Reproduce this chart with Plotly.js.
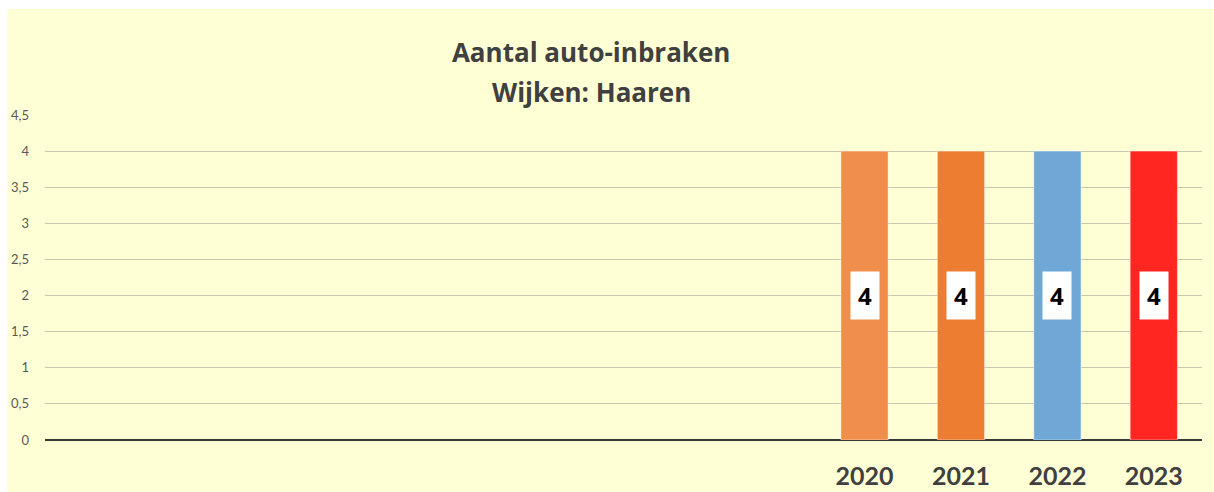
<!DOCTYPE html>
<html>
<head>
<meta charset="utf-8">
<script src="https://cdn.plot.ly/plotly-3.0.1.min.js"></script>
<style>
  html, body { margin: 0; padding: 0; background: #ffffff; width: 1214px; height: 492px; overflow: hidden; }
  #chart { position: absolute; left: 7px; top: 9px; width: 1207px; height: 483px; }
</style>
</head>
<body>
<div id="chart"></div>
<script>
// ---- data ----
const titleLine1 = 'Aantal auto-inbraken';
const titleLine2 = 'Wijken: Haaren';
const years = ['2020', '2021', '2022', '2023'];
const values = [4, 4, 4, 4];
const barColors = ['#F08F4B', '#ED7D31', '#6FA7D6', '#FF2521'];
const yTickVals = [0, 0.5, 1, 1.5, 2, 2.5, 3, 3.5, 4, 4.5];
const yTickText = ['0', '0,5', '1', '1,5', '2', '2,5', '3', '3,5', '4', '4,5'];

const trace = {
  type: 'bar',
  x: years,
  y: values,
  marker: { color: barColors, line: { color: 'rgba(255,255,255,0.45)', width: 1 } },
  hoverinfo: 'x+y'
};

const labelAnnotations = years.map((yr, i) => ({
  x: i, y: values[i] / 2, xref: 'x', yref: 'y',
  text: '<b>' + values[i] + '</b>',
  showarrow: false,
  bgcolor: '#ffffff',
  borderpad: 7,
  font: { family: '"Open Sans", Lato, sans-serif', size: 24, color: '#000000' }
}));

const titleFont = { family: '"Open Sans", Lato, sans-serif', size: 26, color: '#404040' };

const layout = {
  width: 1207, height: 483,
  paper_bgcolor: '#FFFFD5',
  plot_bgcolor: '#FFFFD5',
  margin: { l: 38, r: 12, t: 106, b: 52 },
  separators: ',.',
  showlegend: false,
  bargap: 0.51,
  title: {
    text: '<b>' + titleLine1 + '</b>',
    xref: 'container', yref: 'container',
    x: 0.484, xanchor: 'center',
    y: 0.91, yanchor: 'middle',
    font: titleFont
  },
  annotations: [
    {
      text: '<b>' + titleLine2 + '</b>',
      xref: 'paper', yref: 'paper', x: 0.484 * 1207 / 1157 - 38 / 1157, y: 1 + (106 - 83) / 325,
      xanchor: 'center', yanchor: 'middle', showarrow: false,
      font: titleFont
    }
  ].concat(labelAnnotations),
  xaxis: {
    type: 'category',
    range: [-8.5, 3.5],
    showgrid: false,
    showline: false,
    zeroline: false,
    ticks: '',
    ticklabelstandoff: 19,
    tickfont: { family: 'Lato, "Open Sans", sans-serif', size: 25, color: '#404040', weight: 'bold' },
    fixedrange: true
  },
  yaxis: {
    range: [0, 4.5],
    tickvals: yTickVals,
    ticktext: yTickText,
    showgrid: true,
    gridcolor: '#C8C8B0',
    gridwidth: 1,
    zeroline: true,
    zerolinecolor: '#3A3A3A',
    zerolinewidth: 2,
    showline: false,
    ticks: '',
    ticklabelstandoff: 15,
    tickfont: { family: 'Lato, "Open Sans", sans-serif', size: 13, color: '#595959' },
    fixedrange: true
  }
};

Plotly.newPlot('chart', [trace], layout, { displayModeBar: false, staticPlot: true });
</script>
</body>
</html>
